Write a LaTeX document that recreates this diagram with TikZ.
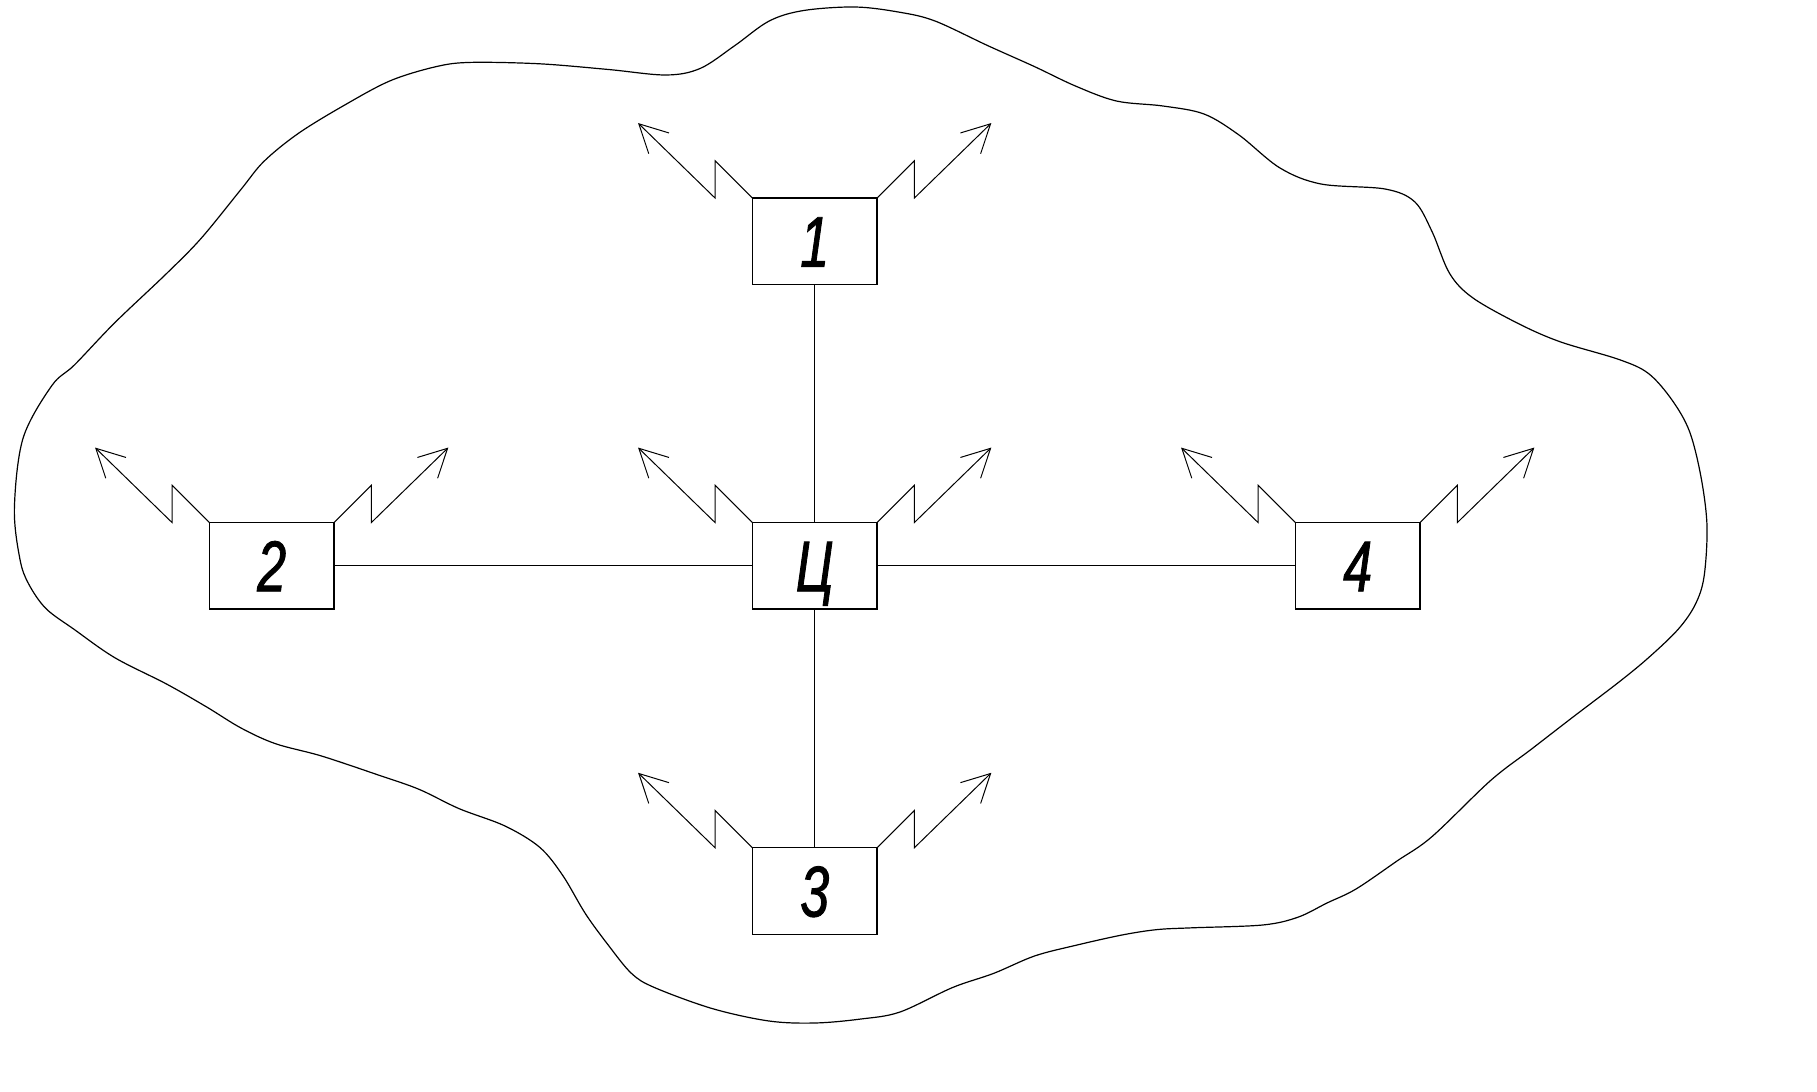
\documentclass[tikz,border=0pt]{standalone}
\usepackage{fontspec}
\newfontfamily\gostfont[FakeStretch=0.72,FakeBold=1.2]{Liberation Sans}
\usetikzlibrary{arrows.meta}
\newcommand\drawantennas[1]{%
  \draw[radio] (#1.north west) -- ++(-37.3,-37.3) -- ++(0,37.3) -- ++(-77,-75);
  \draw[radio] (#1.north east) -- ++(37.3,-37.3) -- ++(0,37.3) -- ++(77,-75);}
\begin{document}
\begin{tikzpicture}[x=0.5pt,y=-0.5pt,
  unit/.style={draw,line width=0.7pt,minimum width=62.35pt,minimum height=43.25pt,
    inner sep=0pt,outer sep=0pt,font=\gostfont\itshape\fontsize{36}{36}\selectfont,
    text height=25.5pt,text depth=0pt},
  link/.style={line width=0.55pt},
  radio/.style={line width=0.5pt,-{Straight Barb[length=14pt,width=14.5pt]}},
  border/.style={line width=0.6pt}]
\useasboundingbox (0,0) rectangle (1817,1092);
\draw[border] plot[smooth cycle, tension=0.55] coordinates {
(14.4,508.6) (23,438.4) (51.7,385.8) (74.6,364.8) (114.8,322.7) (166.5,273.6)
(201,238.5) (241,189.4) (264,161.3) (298.5,133.3) (344.4,105.2) (390.4,80.7)
(436.3,66.6) (470.7,62.4) (539.6,63.8) (608.5,69.5) (666,75) (700.3,68.4)
(734.8,45.6) (769.2,21) (803.7,10.5) (855.3,7) (900,12.3) (935,21)
(987.7,45.6) (1034.5,66.6) (1075.4,86) (1116.4,101) (1163,106) (1204,114)
(1239,135) (1280,168) (1321,184) (1385,189) (1414.6,201.7) (1432,231.5)
(1449.7,273.6) (1473,298) (1520,324.4) (1560.8,342) (1619,359.5) (1648.5,373.5)
(1672,400) (1689.5,431.4) (1701,477) (1707,526) (1704,577) (1695,605)
(1677.8,629.7) (1648.5,657.7) (1619,682) (1572.5,717.4) (1531.6,749) (1490.6,780.5)
(1432,836.6) (1397,861) (1356,889) (1327,903) (1297.7,917.3) (1262.6,925)
(1192.4,927.8) (1157,929.6) (1122,935) (1075.4,945.4) (1034.5,956) (993.6,973.4)
(952.6,987.5) (900,1012) (861,1019) (815,1023) (769,1021) (712,1008.5)
(654.4,987.5) (631.5,973.4) (608.5,945.4) (585.5,913.8) (562.6,875.2) (539.6,847.2)
(505,826) (459,808.6) (419,789.3) (378.9,775.2) (321.5,756) (275.5,743.7)
(241,728) (206.7,707) (166.5,684) (114.8,657.7) (74.6,629.7) (46,608.6)
(28.7,584) (20,559.5)};
\node[unit] (c) at (814.7,565.8) {Ц};
\node[unit] (n1) at (814.7,241.3) {1};
\node[unit] (n2) at (271.7,565.8) {2};
\node[unit] (n3) at (814.7,891) {3};
\node[unit] (n4) at (1357.7,565.8) {4};
\draw[link] (c) -- (n1);
\draw[link] (c) -- (n2);
\draw[link] (c) -- (n3);
\draw[link] (c) -- (n4);
\drawantennas{c}
\drawantennas{n1}
\drawantennas{n2}
\drawantennas{n3}
\drawantennas{n4}
\end{tikzpicture}
\end{document}
